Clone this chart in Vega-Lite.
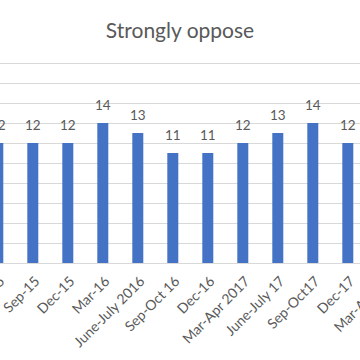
{
  "$schema": "https://vega.github.io/schema/vega-lite/v6.json",
  "autosize": {"type": "none"},
  "width": 360,
  "height": 200,
  "padding": {"top": 63, "left": 0, "right": 0, "bottom": 97},
  "background": "white",
  "title": {"text": "Strongly oppose", "font": "Lato", "fontSize": 21, "fontWeight": "normal", "color": "#595959", "anchor": "middle", "offset": 21},
  "data": {"values": [
    {"period": "June-15", "value": 12},
    {"period": "Sep-15", "value": 12},
    {"period": "Dec-15", "value": 12},
    {"period": "Mar-16", "value": 14},
    {"period": "June-July 2016", "value": 13},
    {"period": "Sep-Oct 16", "value": 11},
    {"period": "Dec-16", "value": 11},
    {"period": "Mar-Apr 2017", "value": 12},
    {"period": "June-July 17", "value": 13},
    {"period": "Sep-Oct17", "value": 14},
    {"period": "Dec-17", "value": 12},
    {"period": "Mar-Apr 18", "value": 12}
  ]},
  "encoding": {
    "x": {"field": "period", "type": "nominal", "sort": null,
      "scale": {"range": [-19.7, 400.3], "paddingInner": 0.686, "paddingOuter": 0.343},
      "axis": {"title": null, "labelAngle": -45, "labelFont": "Lato", "labelFontSize": 14, "labelColor": "#595959", "ticks": false, "domainColor": "#D9D9D9", "labelPadding": 11, "labelOverlap": false, "labelBound": false}},
    "y": {"field": "value", "type": "quantitative",
      "scale": {"domain": [0, 20], "nice": false},
      "axis": {"title": null, "labels": false, "ticks": false, "domain": false, "values": [0,2,4,6,8,10,12,14,16,18,20], "gridColor": "#D9D9D9", "gridWidth": 1}}
  },
  "layer": [
    {"mark": {"type": "bar", "color": "#4472C4", "clip": true}},
    {"mark": {"type": "text", "dy": -10, "font": "Lato", "fontSize": 13.5, "color": "#595959", "baseline": "bottom"},
      "encoding": {"text": {"field": "value", "type": "quantitative"}}}
  ],
  "config": {"view": {"stroke": null}}
}
